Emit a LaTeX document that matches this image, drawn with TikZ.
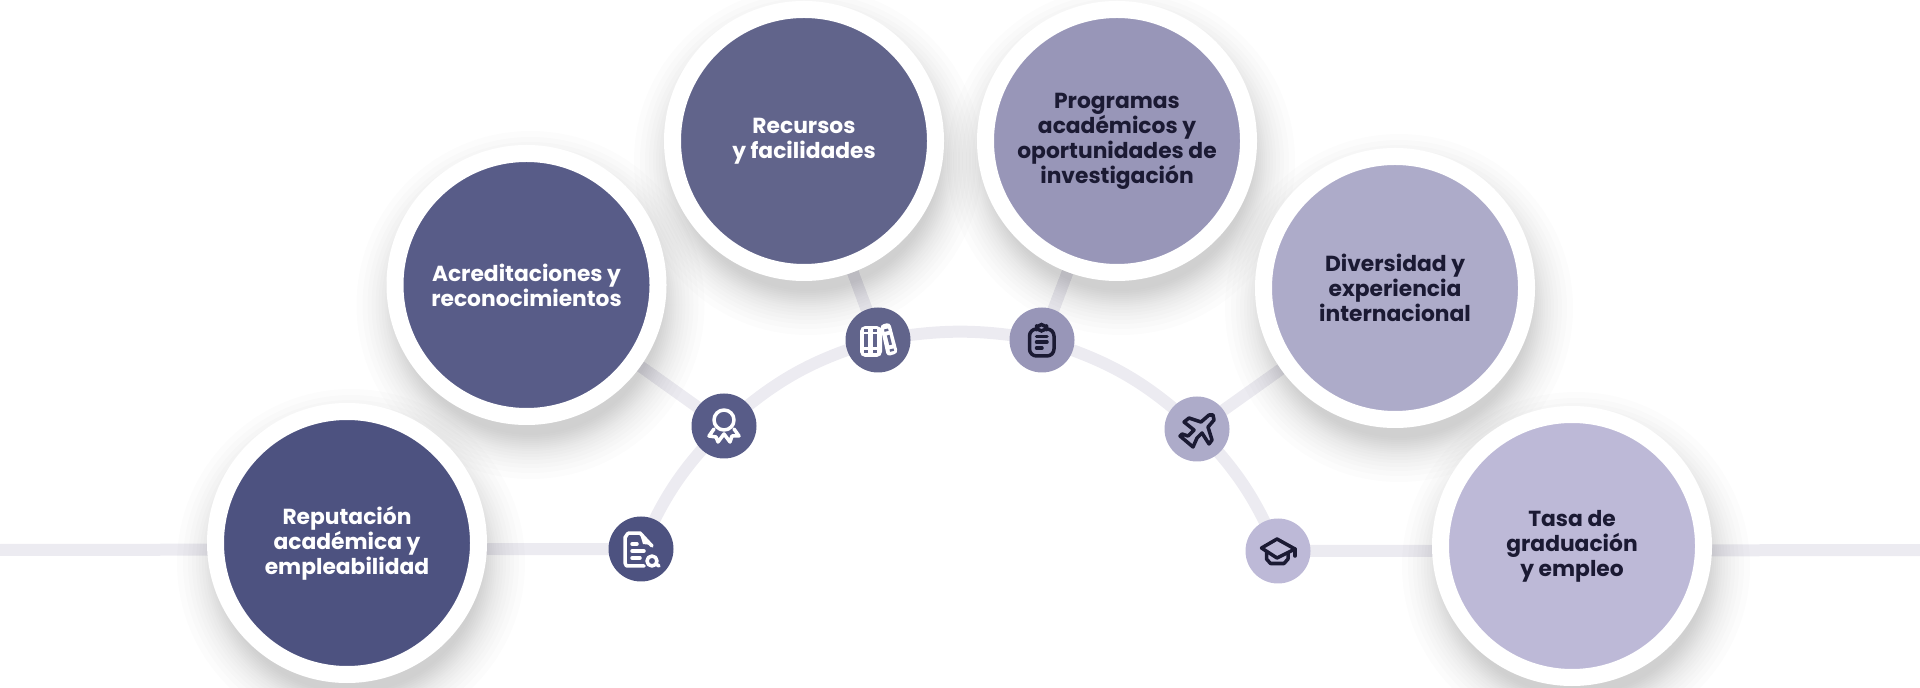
\documentclass[tikz,border=0pt]{standalone}
\usepackage{fontspec}
\setmainfont{Poppins}
\usetikzlibrary{backgrounds}
\definecolor{lineaGris}{HTML}{ECEBF1}
\definecolor{tinta}{HTML}{1B1A33}
\definecolor{tonoA}{HTML}{4D5280}
\definecolor{tonoB}{HTML}{585C88}
\definecolor{tonoC}{HTML}{61648B}
\definecolor{tonoD}{HTML}{9896B8}
\definecolor{tonoE}{HTML}{ADABC9}
\definecolor{tonoF}{HTML}{BDB9D7}
\newcommand{\letraBurbuja}{\fontsize{6.2}{7.1}\selectfont\bfseries\setlength{\lineskiplimit}{-5pt}}
\newcommand{\sombra}[1]{%
  \foreach \r in {1.30,1.32,1.34,1.36,1.38,1.40,1.42,1.44,1.46,1.49,1.52,1.55,1.59,1.63,1.68,1.74}
    \fill[black, opacity=0.012] ([shift={(0.04,-0.2)}]#1.center) circle (\r);}
\tikzset{
  burbuja/.style={circle, draw=white, line width=0.17cm, minimum size=2.63cm,
    inner sep=0pt, align=center, font=\letraBurbuja},
  punto/.style={circle, minimum size=0.65cm, inner sep=0pt},
  enlace/.style={line width=0.12cm, lineaGris},
  icono/.style={line width=1pt, line cap=round, line join=round},
}
\begin{document}
\begin{tikzpicture}

\useasboundingbox (0,0) rectangle (19.2,6.87);

% ── Burbujas ──────────────────────────────────────────────────
\node[burbuja, fill=tonoA, text=white] (repu) at (3.47, 1.44) {Reputación\\académica y\\empleabilidad};
\node[burbuja, fill=tonoB, text=white] (acre) at (5.265, 4.02) {Acreditaciones y\\reconocimientos};
\node[burbuja, fill=tonoC, text=white] (recu) at (8.04, 5.46) {Recursos\\y facilidades};
\node[burbuja, fill=tonoD, text=tinta] (prog) at (11.17, 5.46) {Programas\\académicos y\\oportunidades de\\investigación};
\node[burbuja, fill=tonoE, text=tinta] (dive) at (13.95, 3.99) {Diversidad y\\experiencia\\internacional};
\node[burbuja, fill=tonoF, text=tinta] (tasa) at (15.72, 1.41) {Tasa de\\graduación\\y empleo};

% ── Puntos sobre el arco ──────────────────────────────────────
\node[punto, fill=tonoA] (pRepu) at (6.41, 1.38) {};
\node[punto, fill=tonoB] (pAcre) at (7.24, 2.61) {};
\node[punto, fill=tonoC] (pRecu) at (8.78, 3.47) {};
\node[punto, fill=tonoD] (pProg) at (10.42, 3.47) {};
\node[punto, fill=tonoE] (pDive) at (11.97, 2.58) {};
\node[punto, fill=tonoF] (pTasa) at (12.78, 1.36) {};

\coordinate (bordeIzq) at (0, 1.37);
\coordinate (bordeDer) at (19.2, 1.37);

% ── Enlaces y sombras, por debajo de todo ─────────────────────
\begin{scope}[on background layer]
\draw[enlace] (bordeIzq) -- (pRepu.center);
\draw[enlace] (pTasa.center) -- (bordeDer);
\draw[enlace] (acre) -- (pAcre.center);
\draw[enlace] (recu) -- (pRecu.center);
\draw[enlace] (prog) -- (pProg.center);
\draw[enlace] (dive) -- (pDive.center);
\draw[enlace] (pRepu.center) to[bend left=10.6] (pAcre.center);
\draw[enlace] (pAcre.center) to[bend left=12.6] (pRecu.center);
\draw[enlace] (pRecu.center) to[bend left=10] (pProg.center);
\draw[enlace] (pProg.center) to[bend left=12.8] (pDive.center);
\draw[enlace] (pDive.center) to[bend left=10.5] (pTasa.center);
\sombra{repu}
\sombra{acre}
\sombra{recu}
\sombra{prog}
\sombra{dive}
\sombra{tasa}
\end{scope}

% ── Icono: documento con lupa ─────────────────────────────────
\begin{scope}[shift={(pRepu)}, x=0.01cm, y=-0.01cm, icono, white]
\draw (3,17) -- (-14,17) to[out=180,in=90] (-16,14) -- (-16,-12)
  to[out=-90,in=180] (-12,-16) -- (-1,-16) -- (11,-3);
\fill (-1,-15) -- (11,-4) -- (2,-5) -- cycle;
\draw (-9,-5) -- (-4,-5);
\draw (-9,2) -- (3,2);
\draw (-9,9) -- (-1,9);
\draw (11,12) circle (5);
\draw (15,15) -- (18,17);
\end{scope}

% ── Icono: medalla ────────────────────────────────────────────
\begin{scope}[shift={(pAcre)}, x=0.01cm, y=-0.01cm, icono, white]
\draw (0,-6) circle (10);
\draw (-10,3) -- (-15,10) -- (-8,11) -- (-6,16) -- (0,8) -- (6,16) -- (8,10) -- (15,10) -- (10,3);
\end{scope}

% ── Icono: libros ─────────────────────────────────────────────
\begin{scope}[shift={(pRecu)}, x=0.01cm, y=-0.01cm]
\fill[white, rounded corners=1.5pt] (-18,-14) rectangle (4,17);
\fill[white, rounded corners=1pt] (2,-15) -- (12,-17.5) -- (20,13) -- (9,16.5) -- cycle;
\fill[tonoC] (-14,-11) rectangle (-10,-8);
\fill[tonoC] (-5,-11) rectangle (-1,-8);
\fill[tonoC] (-14,-6) rectangle (-10,7);
\fill[tonoC] (-5,-6) rectangle (-1,7);
\fill[tonoC] (-14,10) rectangle (-10,13);
\fill[tonoC] (-5,10) rectangle (-1,13);
\fill[tonoC] (6,-10.5) -- (10,-11.5) -- (10.6,-9.2) -- (6.6,-8.2) -- cycle;
\fill[tonoC] (8.8,-4.5) -- (11.5,-5.2) -- (14,4.5) -- (11.3,5.2) -- cycle;
\fill[tonoC] (11.5,9.5) -- (15.5,8.5) -- (16.1,10.8) -- (12.1,11.8) -- cycle;
\end{scope}

% ── Icono: portapapeles ───────────────────────────────────────
\begin{scope}[shift={(pProg)}, x=0.01cm, y=-0.01cm, icono, tinta]
\draw[rounded corners=2pt] (-12.5,-11) rectangle (12,16);
\draw[fill=tonoD, rounded corners=1.5pt] (-5.5,-9) rectangle (4.5,-15.5);
\draw (-5.5,-3.5) -- (5,-3.5);
\draw (-5.5,2) -- (5,2);
\draw (-5.5,8) -- (0,8);
\end{scope}

% ── Icono: avión ──────────────────────────────────────────────
\begin{scope}[shift={(pDive)}, x=0.01cm, y=-0.01cm, icono, tinta]
\draw (12,-14) -- (4,-7) -- (-8,-11) -- (-13,-7) -- (-3,1) -- (-9,7) -- (-15,5)
  -- (-17,7) -- (-4,18) -- (0,9) -- (5,4) -- (12,15) -- (15,11) -- (11,-2) -- (17,-9) -- (16,-14) -- cycle;
\end{scope}

% ── Icono: birrete ────────────────────────────────────────────
\begin{scope}[shift={(pTasa)}, x=0.01cm, y=-0.01cm, icono, tinta]
\draw (-1,-12) -- (17,-2) -- (-1,7) -- (-16.5,-3) -- cycle;
\draw (-11.5,1) -- (-11.5,8) -- (-7.5,12.5) -- (6,12.5) -- (10,8) -- (10,2);
\draw (17,-2) -- (17,5);
\end{scope}

\end{tikzpicture}
\end{document}
